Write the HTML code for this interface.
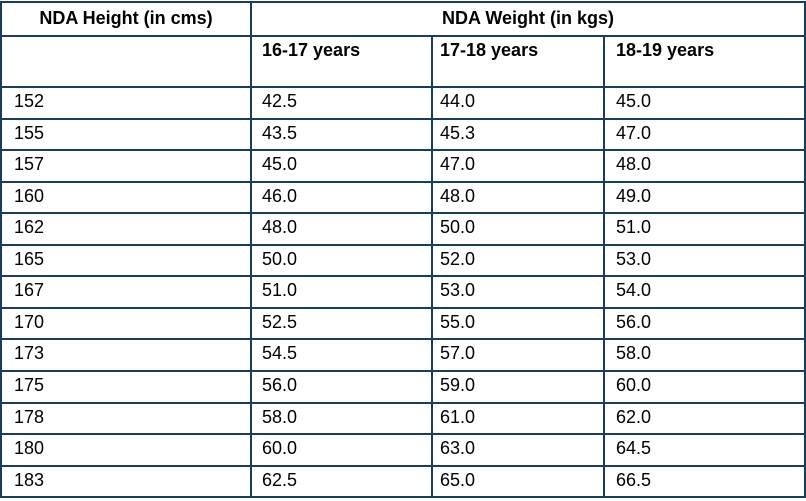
<!DOCTYPE html>
<html><head><meta charset="utf-8"><style>
body{margin:0;width:806px;height:501px;background:#fff;position:relative;overflow:hidden;font-family:"Liberation Sans",Arial,sans-serif;font-size:18px;color:#000}
.h{position:absolute;background:#1b3d5c;height:2px}
.v{position:absolute;background:#1b3d5c;width:2px}
.t{position:absolute;white-space:nowrap;line-height:20px}
.b{font-weight:bold}
</style></head><body>
<div class="t b" style="left:1px;width:250px;top:8px;text-align:center">NDA Height (in cms)</div>
<div class="t b" style="left:251px;width:554px;top:8px;text-align:center">NDA Weight (in kgs)</div>
<div class="t b" style="left:262px;top:40px">16-17 years</div>
<div class="t b" style="left:440px;top:40px">17-18 years</div>
<div class="t b" style="left:616px;top:40px">18-19 years</div>
<script>
const heights=["152","155","157","160","162","165","167","170","173","175","178","180","183"];
const w1617=["42.5","43.5","45.0","46.0","48.0","50.0","51.0","52.5","54.5","56.0","58.0","60.0","62.5"];
const w1718=["44.0","45.3","47.0","48.0","50.0","52.0","53.0","55.0","57.0","59.0","61.0","63.0","65.0"];
const w1819=["45.0","47.0","48.0","49.0","51.0","53.0","54.0","56.0","58.0","60.0","62.0","64.5","66.5"];
const textX=[14,262,440,616];
const rowTop=86, rowH=31.55;
function line(cls,l,t,len,name){
  const d=document.createElement('div');d.className=cls;
  
  
  d.style.left=l+'px';d.style.top=t+'px';
  if(cls==='h')d.style.width=len+'px';else d.style.height=len+'px';
  document.body.appendChild(d);
}
const bottom=Math.round(rowTop+rowH*heights.length);
line('h',0,1,806,'table-top-border');
line('h',0,35,806,'header-row-border');
for(let i=0;i<=heights.length;i++){
  line('h',0,Math.round(rowTop+rowH*i),806,'row-border');
}
line('v',0,1,bottom+1,'left-border');
line('v',250,1,bottom+1,'column-border');
line('v',431,35,bottom-33,'column-border');
line('v',603,35,bottom-33,'column-border');
line('v',804,1,bottom+1,'right-border');
const cols=[heights,w1617,w1718,w1819];
const names=['height-cell','weight-16-17-cell','weight-17-18-cell','weight-18-19-cell'];
for(let i=0;i<heights.length;i++){
  for(let c=0;c<4;c++){
    const d=document.createElement('div');d.className='t';
    
    
    d.textContent=cols[c][i];
    d.style.left=textX[c]+'px';
    d.style.top=Math.round(rowTop+rowH*i+5)+'px';
    document.body.appendChild(d);
  }
}
</script>
</body></html>
